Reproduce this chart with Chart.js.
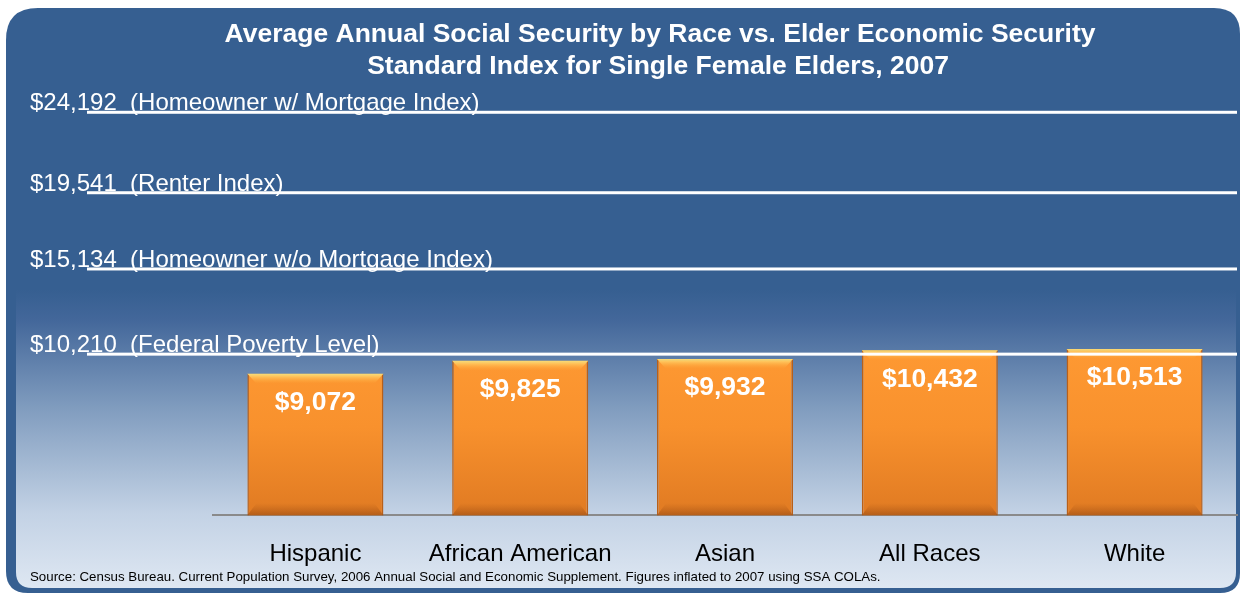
<!DOCTYPE html>
<html>
<head>
<meta charset="utf-8">
<script src="https://cdn.jsdelivr.net/npm/chart.js@4.4.1/dist/chart.umd.min.js"></script>
<style>
  html, body { margin: 0; padding: 0; background: #fff; }
  #wrap { width: 1240px; height: 594px; position: relative; }
</style>
</head>
<body>
<div id="wrap"><canvas id="ssChart" width="1240" height="594"></canvas></div>
<script>
// data
const races = ['Hispanic', 'African American', 'Asian', 'All Races', 'White'];
const avgSocialSecurity = [9072, 9825, 9932, 10432, 10513];
const indexValues = [24192, 19541, 15134, 10210];
const indexNames = ['Homeowner w/ Mortgage Index', 'Renter Index', 'Homeowner w/o Mortgage Index', 'Federal Poverty Level'];
const titleLines = ['Average Annual Social Security by Race vs. Elder Economic Security', 'Standard Index for Single Female Elders, 2007'];
const sourceNote = 'Source: Census Bureau. Current Population Survey, 2006 Annual Social and Economic Supplement. Figures inflated to 2007 using SSA COLAs.';

const FONT = '"Liberation Sans", Arial, sans-serif';
const fmt = v => '$' + v.toLocaleString('en-US');

function roundRect(ctx, x, y, w, h, r) {
    ctx.beginPath();
    ctx.moveTo(x + r.tl, y);
    ctx.lineTo(x + w - r.tr, y);
    ctx.quadraticCurveTo(x + w, y, x + w, y + r.tr);
    ctx.lineTo(x + w, y + h - r.br);
    ctx.quadraticCurveTo(x + w, y + h, x + w - r.br, y + h);
    ctx.lineTo(x + r.bl, y + h);
    ctx.quadraticCurveTo(x, y + h, x, y + h - r.bl);
    ctx.lineTo(x, y + r.tl);
    ctx.quadraticCurveTo(x, y, x + r.tl, y);
    ctx.closePath();
}

// background panel + title
const backdrop = {
    id: 'backdrop',
    beforeDraw(chart) {
        const ctx = chart.ctx;
        ctx.save();
        ctx.fillStyle = '#fff';
        ctx.fillRect(0, 0, chart.width, chart.height);
        roundRect(ctx, 6, 8, 1234, 585, {tl: 32, tr: 26, br: 20, bl: 22});
        ctx.fillStyle = '#365f91';
        ctx.fill();
        const g = ctx.createLinearGradient(0, 290, 0, 588);
        g.addColorStop(0, '#365f91');
        g.addColorStop(0.1, '#43679a');
        g.addColorStop(0.4, '#819dbf');
        g.addColorStop(0.75, '#c3d2e5');
        g.addColorStop(1, '#dee7f2');
        roundRect(ctx, 16, 290, 1220, 298, {tl: 0, tr: 0, br: 16, bl: 16});
        ctx.fillStyle = g;
        ctx.fill();
        ctx.fillStyle = '#fff';
        ctx.font = 'bold 26.5px ' + FONT;
        ctx.textAlign = 'center';
        ctx.textBaseline = 'middle';
        ctx.fillText(titleLines[0], 660, 35);
        ctx.fillText(titleLines[1], 658, 67);
        ctx.restore();
    }
};

// index reference lines with labels, value labels, source
const overlays = {
    id: 'overlays',
    afterDatasetsDraw(chart) {
        const ctx = chart.ctx;
        const y = chart.scales.y;
        const area = chart.chartArea;
        ctx.save();
        // bar bevel highlights
        chart.getDatasetMeta(0).data.forEach(bar => {
            const l = bar.x - bar.width / 2, r = bar.x + bar.width / 2, t = bar.y;
            const b = Math.min(bar.base, area.bottom);
            const hg = ctx.createLinearGradient(0, t, 0, t + 10);
            hg.addColorStop(0, '#ffe27a');
            hg.addColorStop(1, 'rgba(255,170,60,0)');
            ctx.fillStyle = hg;
            ctx.beginPath();
            ctx.moveTo(l, t); ctx.lineTo(r, t); ctx.lineTo(r - 9, t + 10); ctx.lineTo(l + 9, t + 10); ctx.closePath();
            ctx.fill();
            const bg = ctx.createLinearGradient(0, b - 12, 0, b);
            bg.addColorStop(0, 'rgba(170,85,20,0)');
            bg.addColorStop(1, 'rgba(150,75,20,0.6)');
            ctx.fillStyle = bg;
            ctx.beginPath();
            ctx.moveTo(l + 9, b - 12); ctx.lineTo(r - 9, b - 12); ctx.lineTo(r, b); ctx.lineTo(l, b); ctx.closePath();
            ctx.fill();
        });
        // value labels
        ctx.fillStyle = '#fff';
        ctx.font = 'bold 26.5px ' + FONT;
        ctx.textAlign = 'center';
        ctx.textBaseline = 'middle';
        chart.getDatasetMeta(0).data.forEach((bar, i) => {
            ctx.fillText(fmt(avgSocialSecurity[i]), bar.x, bar.y + 29);
        });
        // index lines
        ctx.textAlign = 'left';
        ctx.textBaseline = 'alphabetic';
        ctx.font = '24px ' + FONT;
        indexValues.forEach((v, i) => {
            const py = y.getPixelForValue(v);
            ctx.fillStyle = '#fff';
            ctx.fillText(fmt(v) + '  (' + indexNames[i] + ')', 30, py - 2);
            ctx.fillRect(87, py - 1.5, area.right - 87, 3);
        });
        // source
        ctx.fillStyle = '#000';
        ctx.font = '13.3px ' + FONT;
        ctx.textBaseline = 'middle';
        ctx.fillText(sourceNote, 30, 577);
        ctx.restore();
    }
};

new Chart(document.getElementById('ssChart'), {
    type: 'bar',
    data: {
        labels: races,
        datasets: [{
            data: avgSocialSecurity,
            backgroundColor: ctx => {
                const a = ctx.chart.chartArea;
                if (!a) return '#f58e2c';
                const g = ctx.chart.ctx.createLinearGradient(0, 340, 0, a.bottom);
                g.addColorStop(0, '#ff9a33');
                g.addColorStop(0.5, '#f8912d');
                g.addColorStop(1, '#e07a22');
                return g;
            },
            borderColor: '#b8601a',
            borderWidth: 1.5,
            barPercentage: 0.82,
            categoryPercentage: 0.81
        }]
    },
    options: {
        responsive: false,
        animation: false,
        layout: { padding: { left: 213, right: 3, top: 81, bottom: 0 } },
        plugins: { legend: { display: false }, tooltip: { enabled: false } },
        scales: {
            x: {
                grid: { display: false, drawTicks: false },
                border: { color: '#8a8a8a', width: 2 },
                ticks: { color: '#000', padding: 25, font: { family: FONT, size: 24 } }
            },
            y: {
                display: false,
                min: 900,
                max: 26000
            }
        }
    },
    plugins: [backdrop, overlays]
});
</script>
</body>
</html>
